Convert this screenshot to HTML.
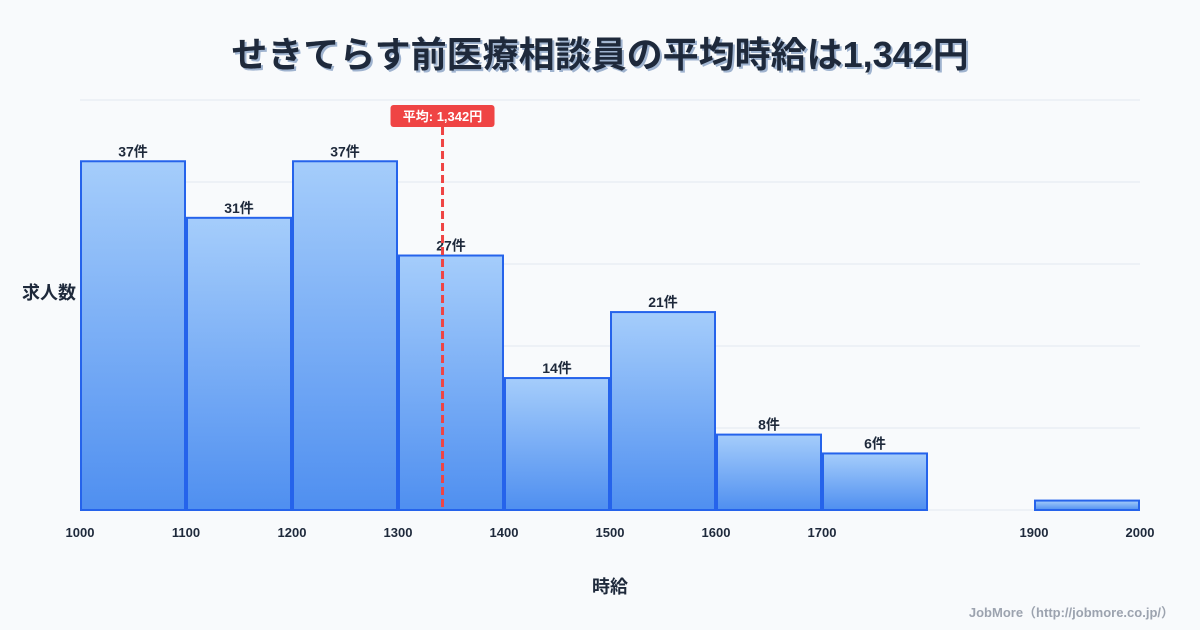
<!DOCTYPE html>
<html><head><meta charset="utf-8"><style>
body{margin:0;background:#f8fafc;}
svg{display:block;font-family:"Liberation Sans","Noto Sans CJK JP",sans-serif;}
</style></head><body>
<svg id="chart" width="1200" height="630" viewBox="0 0 1200 630">
<defs><linearGradient id="g" x1="0" y1="0" x2="0" y2="1"><stop offset="0" stop-color="#a5cdfb"/><stop offset="1" stop-color="#4f8ff0"/></linearGradient></defs>
<rect width="1200" height="630" fill="#f8fafc"/>
<text x="600" y="67" text-anchor="middle" font-size="36" font-weight="bold" fill="#9fb3cf" transform="translate(2,2)">せきてらす前医療相談員の平均時給は1,342円</text>
<text x="600" y="67" text-anchor="middle" font-size="36" font-weight="bold" fill="#1e293b">せきてらす前医療相談員の平均時給は1,342円</text>
<g id="grid"></g><g id="bars"></g><g id="xt"></g>
<text x="49" y="299" text-anchor="middle" font-size="18" font-weight="bold" fill="#1e293b">求人数</text>
<text x="610" y="593" text-anchor="middle" font-size="18" font-weight="bold" fill="#1e293b">時給</text>
<text x="1174" y="617" text-anchor="end" font-size="13" font-weight="bold" fill="#9ca3af">JobMore（http://jobmore.co.jp/）</text>
</svg>
<script>
const binStarts=[1000,1100,1200,1300,1400,1500,1600,1700,1800,1900];
const counts=[37,31,37,27,14,21,8,6,0,1];
const tickLabels=[1000,1100,1200,1300,1400,1500,1600,1700,1900,2000];
const meanValue=1342;
const NS="http://www.w3.org/2000/svg";
const X=v=>80+(v-1000)*1.06;
const Y=v=>510-v*(410/43.5);
function mk(tag,attrs,parent,txt){const e=document.createElementNS(NS,tag);for(const k in attrs)e.setAttribute(k,attrs[k]);if(txt!=null)e.textContent=txt;parent.appendChild(e);return e;}
const grid=document.getElementById('grid'),bars=document.getElementById('bars'),xt=document.getElementById('xt');
for(let i=0;i<=5;i++){const y=510-i*82;const l=mk('line',{x1:80,x2:1140,y1:y,y2:y,stroke:'#e2e8f0','stroke-width':1},grid);

}
binStarts.forEach((b,i)=>{const c=counts[i];if(!c)return;
const x0=X(b)+1,x1=X(b+100)-1,y=Y(c);
const r=mk('rect',{x:x0,y:y,width:x1-x0,height:510-y,fill:'url(#g)',stroke:'#2563eb','stroke-width':2},bars);


if(c>1){const t=mk('text',{x:(x0+x1)/2,y:y-5,'text-anchor':'middle','font-size':14,'font-weight':'bold',fill:'#1e293b'},bars,c+'件');

}});
tickLabels.forEach(v=>{const t=mk('text',{x:X(v),y:537,'text-anchor':'middle','font-size':13,'font-weight':'bold',fill:'#1e293b'},xt,v);

});
const mx=X(meanValue);
const ml=mk('line',{x1:mx,x2:mx,y1:127,y2:510,stroke:'#ef4444','stroke-width':3,'stroke-dasharray':'8,4'},bars);


const mb=mk('rect',{x:mx-52,y:105,width:104,height:22,rx:3,fill:'#ef4444'},bars);


const mt=mk('text',{x:mx,y:121,'text-anchor':'middle','font-size':13,'font-weight':'bold',fill:'#fff'},bars,'平均: 1,342円');


</script>
</body></html>
